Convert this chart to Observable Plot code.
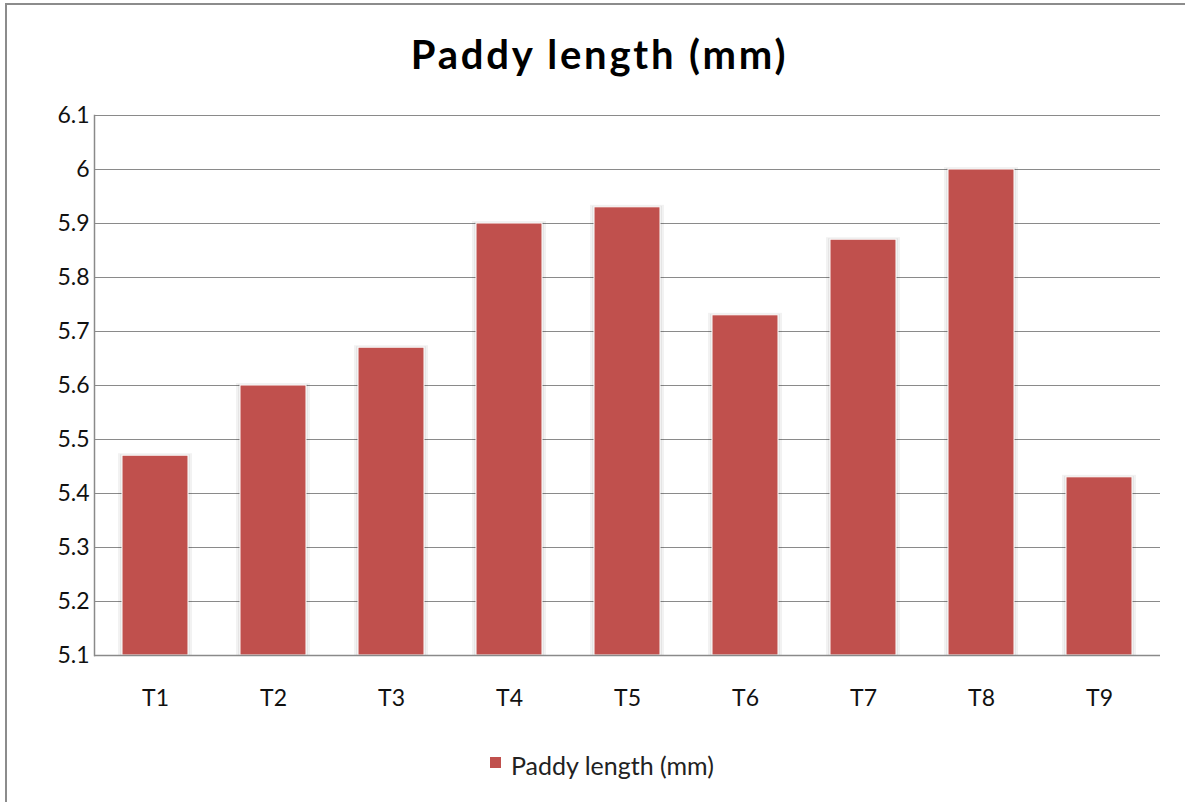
<!DOCTYPE html>
<html>
<head>
<meta charset="utf-8">
<script src="https://cdn.jsdelivr.net/npm/d3@7"></script>
<script src="https://cdn.jsdelivr.net/npm/@observablehq/plot@0.6"></script>
<style>
  html, body { margin: 0; padding: 0; background: #fff; }
  #wrap { position: relative; width: 1185px; height: 802px; overflow: hidden; font-family: Lato, "Open Sans", sans-serif; }
  #frame { position: absolute; left: 5px; top: 3px; width: 1300px; height: 900px; border-left: 2px solid #8c8c8c; border-top: 2px solid #8c8c8c; box-sizing: border-box; }
  #title { position: absolute; left: 7px; top: 34px; width: 1185px; text-align: center; font-size: 40px; line-height: 40px; letter-spacing: 2.8px; font-weight: bold; color: #000; }
  #chart { position: absolute; left: 0; top: 95px; }
  #chart svg text { font-size: 23px; }
  #sw { position: absolute; left: 490px; top: 757px; width: 11px; height: 11px; background: #C0504D; }
  #legtext { position: absolute; left: 511px; top: 753px; font-size: 25px; line-height: 25px; color: #222; white-space: nowrap; }
</style>
</head>
<body>
<div id="wrap">
  <div id="frame"></div>
  <div id="title">Paddy length (mm)</div>
  <div id="chart"></div>
  <div id="sw"></div>
  <div id="legtext">Paddy length (mm)</div>
</div>
<script>
const categories = ["T1", "T2", "T3", "T4", "T5", "T6", "T7", "T8", "T9"];
const values = [5.47, 5.60, 5.67, 5.90, 5.93, 5.73, 5.87, 6.00, 5.43];
const yTicks = [5.1, 5.2, 5.3, 5.4, 5.5, 5.6, 5.7, 5.8, 5.9, 6.0, 6.1];
const yBase = 5.1;

const data = categories.map((c, i) => ({cat: c, val: values[i]}));

const plot = Plot.plot({
  width: 1185,
  height: 635,
  marginTop: 20,
  marginBottom: 75,
  marginLeft: 94,
  marginRight: 25,
  style: { fontFamily: "Lato, sans-serif", fontSize: "23px", color: "#111", background: "transparent" },
  x: { domain: categories, paddingInner: 0.44, paddingOuter: 0.22, label: null },
  y: { domain: [5.1, 6.1], label: null },
  marks: [
    Plot.ruleY(yTicks, { stroke: "#8a8a8a", strokeWidth: 1.2 }),
    Plot.barY(data, { x: "cat", y1: yBase, y2: "val", fill: "#000", fillOpacity: 0.05, insetLeft: -4, insetRight: -4, insetTop: -2 }),
    Plot.barY(data, { x: "cat", y1: yBase, y2: "val", fill: "#000", fillOpacity: 0.05, insetLeft: -2, insetRight: -2, insetTop: -1 }),
    Plot.barY(data, { x: "cat", y1: yBase, y2: "val", fill: "#C0504D", stroke: "#fff", strokeWidth: 1 }),
    Plot.axisX({ tickSize: 0, tickPadding: 34, fontSize: 23 }),
    Plot.axisY({ ticks: yTicks, tickFormat: d3.format("~g"), tickSize: 0, tickPadding: 5, fontSize: 23 }),
    Plot.ruleY([yBase], { stroke: "#8a8a8a", strokeWidth: 1.5 }),
    Plot.frame({ anchor: "left", stroke: "#8a8a8a", strokeWidth: 1.5 })
  ]
});
document.getElementById("chart").appendChild(plot);
</script>
</body>
</html>
